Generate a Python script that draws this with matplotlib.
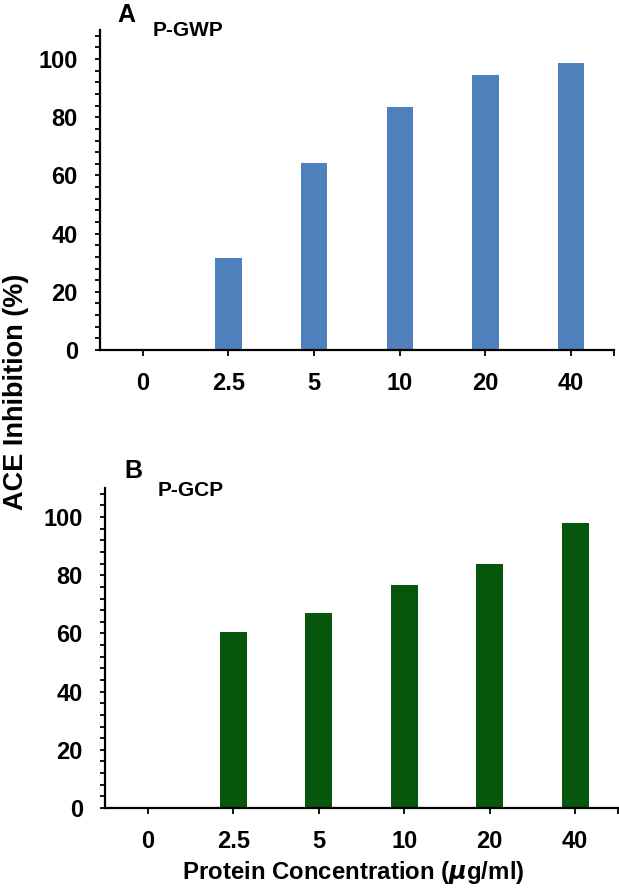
import matplotlib
matplotlib.use("Agg")
import matplotlib.pyplot as plt
from matplotlib.ticker import MultipleLocator

plt.rcParams['font.family'] = ['Liberation Sans', 'DejaVu Sans']
plt.rcParams['font.weight'] = 'bold'

# data
concentrations = ["0", "2.5", "5", "10", "20", "40"]
gwp_inhibition = [0, 31.7, 64.2, 83.6, 94.4, 98.7]
gcp_inhibition = [0, 60.5, 67.0, 76.5, 83.9, 98.0]

blue = "#4F81BD"
green = "#06560D"

fig = plt.figure(figsize=(6.19, 8.90), dpi=100)


def draw_panel(ax, values, color):
    x = list(range(len(concentrations)))
    ax.bar(x, values, width=0.31, color=color)
    ax.set_xlim(-0.5, 5.5)
    ax.set_ylim(0, 110)
    ax.set_xticks(x + [5.5])
    ax.set_xticklabels(concentrations + [""])
    ax.set_yticks([0, 20, 40, 60, 80, 100])
    ax.yaxis.set_minor_locator(MultipleLocator(4))
    for s in ["top", "right"]:
        ax.spines[s].set_visible(False)
    for s in ["left", "bottom"]:
        ax.spines[s].set_linewidth(1.6)
    ax.tick_params(axis="y", which="both", direction="out", length=3.5, width=1.3,
                   labelsize=17, pad=12.5)
    ax.tick_params(axis="x", direction="out", length=4, width=1.3,
                   labelsize=17, pad=12)
    for lbl in ax.get_xticklabels() + ax.get_yticklabels():
        lbl.set_fontweight("bold")


# panel A
axA = fig.add_axes([100 / 619, 1 - 350 / 890, 514 / 619, 320 / 890])
draw_panel(axA, gwp_inhibition, blue)

# panel B
axB = fig.add_axes([105 / 619, 1 - 808 / 890, 513 / 619, 320 / 890])
draw_panel(axB, gcp_inhibition, green)

fig.text(117 / 619, 1 - 15 / 890, "A", fontsize=18, fontweight="bold", va="center")
fig.text(153 / 619, 1 - 30 / 890, "P-GWP", fontsize=15, fontweight="bold", va="center")
fig.text(124 / 619, 1 - 471 / 890, "B", fontsize=18, fontweight="bold", va="center")
fig.text(158 / 619, 1 - 490 / 890, "P-GCP", fontsize=15, fontweight="bold", va="center")

fig.text(16 / 619, 1 - 392 / 890, "ACE Inhibition (%)", rotation=90, fontsize=19.5,
         fontweight="bold", ha="center", va="center")
fig.text(353 / 619, 1 - 872 / 890, "Protein Concentration ($\\mu$g/ml)", fontsize=17.3,
         fontweight="bold", ha="center", va="center")

fig.savefig("out.png", dpi=100)
